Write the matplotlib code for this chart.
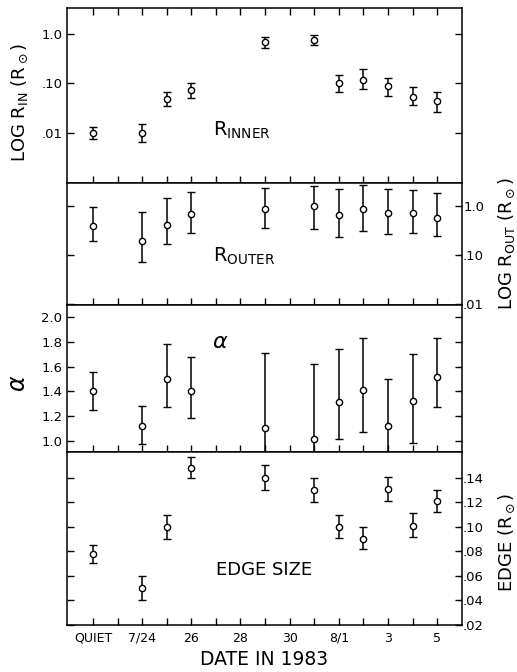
import numpy as np
import matplotlib
matplotlib.use("Agg")
import matplotlib.pyplot as plt
from matplotlib.ticker import FixedLocator, FixedFormatter, NullLocator

plt.rcParams["font.family"] = "DejaVu Sans"
plt.rcParams["mathtext.fontset"] = "dejavusans"

# Day of July 1983 (8/n -> 31+n); the quiet-sun reference sits at 22.
day = [22, 24, 25, 26, 29, 31, 32, 33, 34, 35, 36]

# Inner radius (R_sun): value, lower, upper
r_in = [0.010, 0.010, 0.048, 0.075, 0.68, 0.77, 0.100, 0.120, 0.088, 0.054, 0.045]
r_in_lo = [0.0074, 0.0064, 0.035, 0.051, 0.52, 0.59, 0.068, 0.077, 0.057, 0.036, 0.027]
r_in_hi = [0.0132, 0.015, 0.068, 0.103, 0.86, 0.97, 0.150, 0.200, 0.130, 0.083, 0.066]

# Outer radius (R_sun)
r_out = [0.40, 0.196, 0.42, 0.70, 0.88, 1.00, 0.66, 0.88, 0.74, 0.74, 0.57]
r_out_lo = [0.195, 0.074, 0.17, 0.28, 0.36, 0.35, 0.24, 0.31, 0.27, 0.29, 0.25]
r_out_hi = [0.95, 0.77, 1.48, 2.0, 2.4, 2.6, 2.26, 2.7, 2.3, 2.2, 1.87]

# Power-law index alpha (lower bounds of 7/29, 7/31, 8/3 run off the scale)
alpha = [1.40, 1.12, 1.50, 1.40, 1.105, 1.016, 1.31, 1.41, 1.12, 1.32, 1.515]
alpha_lo = [1.25, 0.97, 1.27, 1.18, 0.50, 0.50, 1.01, 1.07, 0.50, 0.98, 1.27]
alpha_hi = [1.56, 1.285, 1.78, 1.68, 1.71, 1.62, 1.745, 1.83, 1.50, 1.70, 1.83]

# Edge size (R_sun)
edge = [0.078, 0.050, 0.100, 0.148, 0.140, 0.130, 0.100, 0.090, 0.131, 0.101, 0.121]
edge_lo = [0.0707, 0.040, 0.090, 0.140, 0.130, 0.120, 0.091, 0.082, 0.121, 0.0915, 0.112]
edge_hi = [0.085, 0.060, 0.110, 0.157, 0.150, 0.140, 0.110, 0.100, 0.141, 0.111, 0.130]

x_ticks = list(range(22, 37))
x_label_pos = [22, 24, 26, 28, 30, 32, 34, 36]
x_labels = ["QUIET", "7/24", "26", "28", "30", "8/1", "3", "5"]

log_ticks = [0.01, 0.1, 1.0]
log_labels = [".01", ".10", "1.0"]
alpha_ticks = [1.0, 1.2, 1.4, 1.6, 1.8, 2.0]
alpha_labels = ["1.0", "1.2", "1.4", "1.6", "1.8", "2.0"]
edge_ticks = [0.02, 0.04, 0.06, 0.08, 0.10, 0.12, 0.14]
edge_labels = [".02", ".04", ".06", ".08", ".10", ".12", ".14"]

SUN = r"(R$_\odot$)"


def errplot(ax, v, lo, hi):
    v = np.asarray(v)
    yerr = [v - np.asarray(lo), np.asarray(hi) - v]
    ax.errorbar(day, v, yerr=yerr, fmt="o", ms=4.5, mfc="white", mec="black",
                mew=1.0, ecolor="black", elinewidth=1.1, capsize=2.8,
                capthick=1.1, zorder=3)


def style(ax, labelside):
    for s in ax.spines.values():
        s.set_linewidth(1.1)
    ax.set_xlim(20.95, 37.0)
    ax.xaxis.set_major_locator(FixedLocator(x_ticks))
    ax.xaxis.set_minor_locator(NullLocator())
    ax.tick_params(axis="x", direction="in", length=5, width=1.0,
                   labelbottom=False, labelsize=9)
    ax.tick_params(axis="y", direction="in", length=5, width=1.0,
                   left=True, right=True, labelsize=9.5)
    if labelside == "right":
        ax.yaxis.tick_right()
        ax.yaxis.set_label_position("right")
        ax.tick_params(axis="y", left=True, right=True, labelleft=False,
                       labelright=True, pad=1)


fig = plt.figure(figsize=(5.17, 6.72), dpi=100)
fig.patch.set_facecolor("white")
gs = fig.add_gridspec(4, 1, height_ratios=[175, 122, 147, 173], hspace=0,
                      left=0.130, right=0.893, top=0.988, bottom=0.070)
ax1 = fig.add_subplot(gs[0])
ax2 = fig.add_subplot(gs[1], sharex=ax1)
ax3 = fig.add_subplot(gs[2], sharex=ax1)
ax4 = fig.add_subplot(gs[3], sharex=ax1)

# ---- R inner ----
ax1.set_yscale("log")
errplot(ax1, r_in, r_in_lo, r_in_hi)
style(ax1, "left")
ax1.set_ylim(10 ** -3.02, 10 ** 0.53)
ax1.yaxis.set_major_locator(FixedLocator(log_ticks))
ax1.yaxis.set_major_formatter(FixedFormatter(log_labels))
ax1.yaxis.set_minor_locator(NullLocator())
ax1.tick_params(axis="x", top=True)
ax1.set_ylabel(r"LOG R$_\mathrm{IN}$ " + SUN, fontsize=13)
ax1.yaxis.set_label_coords(-0.095, 0.46)
ax1.text(0.37, 0.30, r"R$_\mathrm{INNER}$", transform=ax1.transAxes,
         fontsize=14, ha="left", va="center")

# ---- R outer ----
ax2.set_yscale("log")
errplot(ax2, r_out, r_out_lo, r_out_hi)
style(ax2, "right")
ax2.set_ylim(10 ** -2.02, 10 ** 0.476)
ax2.yaxis.set_major_locator(FixedLocator(log_ticks))
ax2.yaxis.set_major_formatter(FixedFormatter(log_labels))
ax2.yaxis.set_minor_locator(NullLocator())
ax2.set_ylabel(r"LOG R$_\mathrm{OUT}$ " + SUN, fontsize=13, rotation=90)
ax2.yaxis.set_label_coords(1.088, 0.5)
ax2.text(0.37, 0.40, r"R$_\mathrm{OUTER}$", transform=ax2.transAxes,
         fontsize=14, ha="left", va="center")

# ---- alpha ----
errplot(ax3, alpha, alpha_lo, alpha_hi)
style(ax3, "left")
ax3.set_ylim(0.908, 2.10)
ax3.yaxis.set_major_locator(FixedLocator(alpha_ticks))
ax3.yaxis.set_major_formatter(FixedFormatter(alpha_labels))
ax3.set_ylabel(r"$\alpha$", fontsize=17)
ax3.yaxis.set_label_coords(-0.095, 0.47)
ax3.text(0.387, 0.75, r"$\alpha$", transform=ax3.transAxes,
         fontsize=16, ha="center", va="center")

# ---- edge size ----
errplot(ax4, edge, edge_lo, edge_hi)
style(ax4, "right")
ax4.set_ylim(0.02, 0.161)
ax4.yaxis.set_major_locator(FixedLocator(edge_ticks))
ax4.yaxis.set_major_formatter(FixedFormatter(edge_labels))
ax4.set_ylabel("EDGE " + SUN, fontsize=13, rotation=90)
ax4.yaxis.set_label_coords(1.088, 0.48)
ax4.text(0.50, 0.32, "EDGE SIZE", transform=ax4.transAxes,
         fontsize=13, ha="center", va="center")

sec = ax4.secondary_xaxis("bottom")
sec.set_xticks(x_label_pos)
sec.set_xticklabels(x_labels, fontsize=9)
sec.tick_params(length=0, pad=5)
sec.spines["bottom"].set_visible(False)
sec.set_xlabel("DATE IN 1983", fontsize=13.5, labelpad=4)

fig.savefig("out.png", dpi=100, facecolor="white")
